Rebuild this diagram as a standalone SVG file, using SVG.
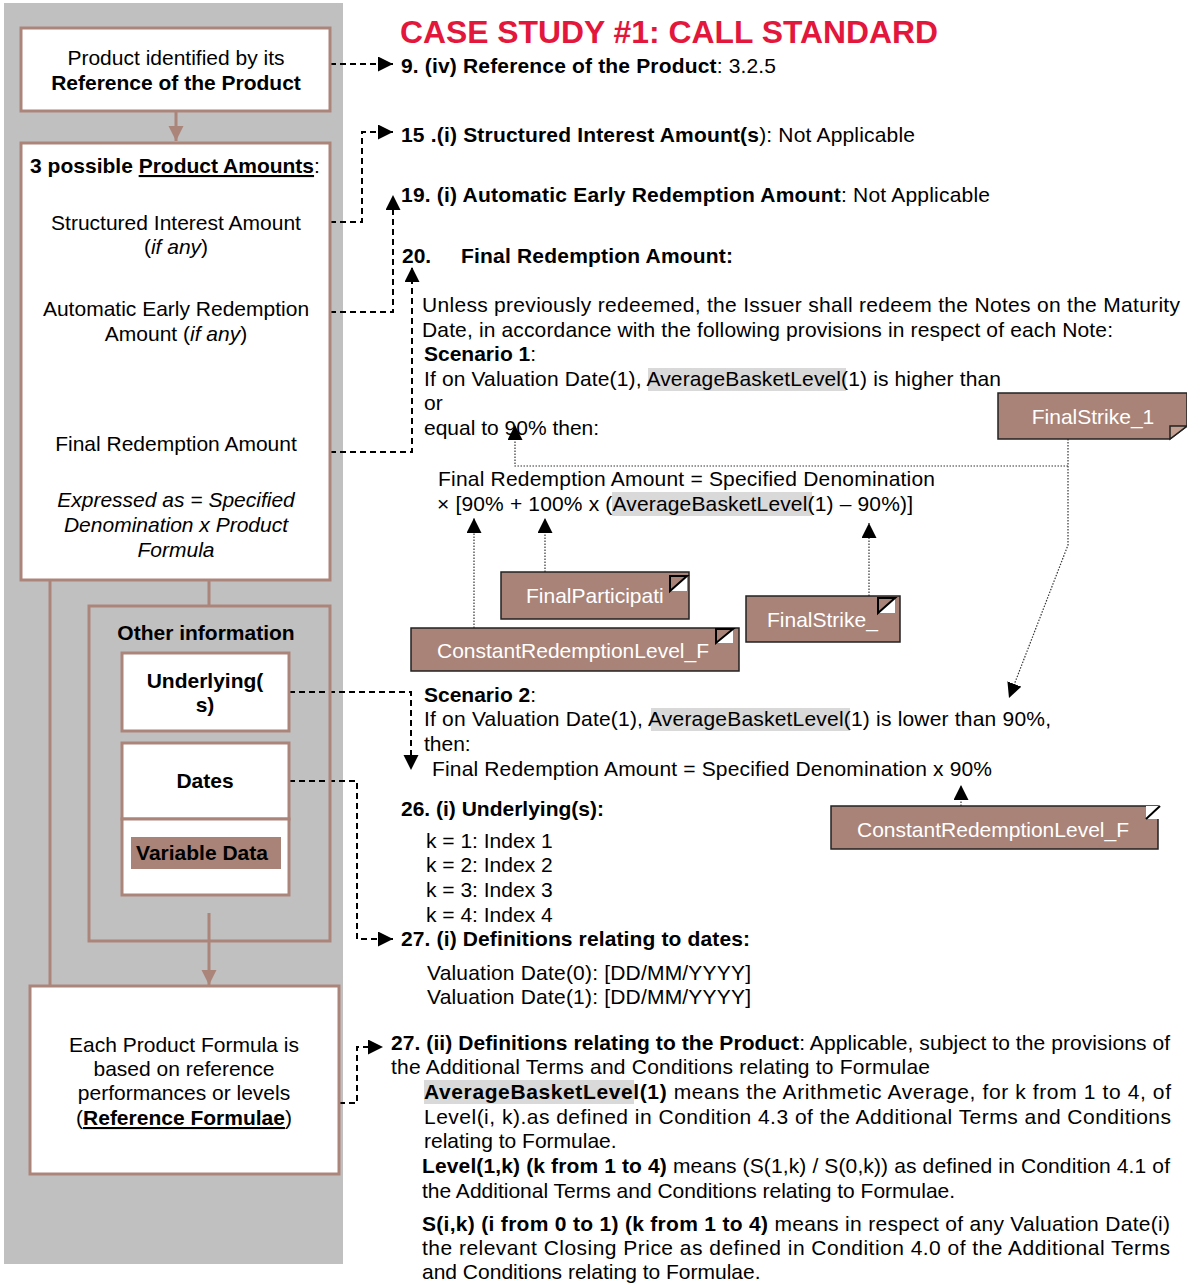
<svg xmlns="http://www.w3.org/2000/svg" width="1187" height="1286" viewBox="0 0 1187 1286">
<defs>
<style>
text{font-family:"Liberation Sans",Arial,sans-serif;font-size:21px;fill:#000}
.b{font-weight:bold}
.i{font-style:italic}
.u{text-decoration:underline}
.box{fill:#fff;stroke:#AC857A;stroke-width:3}
.brn{stroke:#AC857A;stroke-width:3;fill:none}
.dash{stroke:#000;stroke-width:2;stroke-dasharray:6,4;fill:none}
.dot{stroke:#333;stroke-width:1.2;stroke-dasharray:1.5,1.5;fill:none}
.note{fill:#A98377;stroke:#222;stroke-width:1.5}
.nt{fill:#fff}
.hl{fill:#D9D9D9}
</style>
<marker id="ah" markerUnits="userSpaceOnUse" markerWidth="16" markerHeight="16" refX="15" refY="7.5" orient="auto"><path d="M0,0 L15,7.5 L0,15 Z" fill="#000"/></marker>
<marker id="ahb" markerUnits="userSpaceOnUse" markerWidth="16" markerHeight="16" refX="15" refY="7.5" orient="auto"><path d="M0,0 L15,7.5 L0,15 Z" fill="#AC857A"/></marker>
</defs>

<rect x="4" y="3" width="339" height="1261" fill="#C0C0C0"/>

<g id="connectors">
<path class="brn" d="M176,111 V141" marker-end="url(#ahb)"/>
<path class="brn" d="M50,580 V986"/>
<path class="brn" d="M209,580 V606"/>
<path class="brn" d="M209,913 V985" marker-end="url(#ahb)"/>
<path class="dash" d="M330,64 H393" marker-end="url(#ah)"/>
<path class="dash" d="M330,222 H362 V132 H393" marker-end="url(#ah)"/>
<path class="dash" d="M330,312 H393 V195" marker-end="url(#ah)"/>
<path class="dash" d="M330,452 H412 V267" marker-end="url(#ah)"/>
<path class="dash" d="M289,692 H411 V770" marker-end="url(#ah)"/>
<path class="dash" d="M289,781 H357 V939 H393" marker-end="url(#ah)"/>
<path class="dash" d="M339,1103 H357 V1047 H383" marker-end="url(#ah)"/>
<path class="dot" d="M1068,439 V466 H515 V425" marker-end="url(#ah)"/>
<path class="dot" d="M1068,466 V545 L1009,698" marker-end="url(#ah)"/>
<path class="dot" d="M545,572 V518" marker-end="url(#ah)"/>
<path class="dot" d="M474,628 V518" marker-end="url(#ah)"/>
<path class="dot" d="M869,596 V523" marker-end="url(#ah)"/>
<path class="dot" d="M961,806 V785" marker-end="url(#ah)"/>
</g>

<g id="box-reference">
<rect class="box" x="21" y="28" width="309" height="83"/>
<text x="176" y="65" text-anchor="middle">Product identified by its</text>
<text x="176" y="90" text-anchor="middle" class="b">Reference of the Product</text>
</g>

<g id="box-amounts">
<rect class="box" x="21" y="143" width="309" height="437"/>
<text x="175" y="173" text-anchor="middle"><tspan class="b">3 possible </tspan><tspan class="b u">Product Amounts</tspan>:</text>
<text x="176" y="230" text-anchor="middle">Structured Interest Amount</text>
<text x="176" y="254" text-anchor="middle">(<tspan class="i">if any</tspan>)</text>
<text x="176" y="316" text-anchor="middle">Automatic Early Redemption</text>
<text x="176" y="341" text-anchor="middle">Amount (<tspan class="i">if any</tspan>)</text>
<text x="176" y="451" text-anchor="middle">Final Redemption Amount</text>
<text x="176" y="507" text-anchor="middle" class="i">Expressed as = Specified</text>
<text x="176" y="532" text-anchor="middle" class="i">Denomination x Product</text>
<text x="176" y="557" text-anchor="middle" class="i">Formula</text>
</g>

<g id="box-other">
<rect x="89" y="606" width="241" height="335" fill="none" stroke="#AC857A" stroke-width="3"/>
<text x="206" y="640" text-anchor="middle" class="b">Other information</text>
</g>

<g id="box-underlying">
<rect class="box" x="122" y="653" width="167" height="78"/>
<text x="205" y="688" text-anchor="middle" class="b">Underlying(</text>
<text x="205" y="712" text-anchor="middle" class="b">s)</text>
</g>

<g id="box-dates">
<rect class="box" x="122" y="743" width="167" height="76"/>
<text x="205" y="788" text-anchor="middle" class="b">Dates</text>
<rect class="box" x="122" y="819" width="167" height="76"/>
<rect x="131" y="837" width="150" height="32" fill="#A98377"/>
<text x="202" y="860" text-anchor="middle" class="b">Variable Data</text>
</g>

<g id="box-formula">
<rect class="box" x="30" y="986" width="309" height="188"/>
<text x="184" y="1052" text-anchor="middle">Each Product Formula is</text>
<text x="184" y="1076" text-anchor="middle">based on reference</text>
<text x="184" y="1100" text-anchor="middle">performances or levels</text>
<text x="184" y="1125" text-anchor="middle">(<tspan class="b u">Reference Formulae</tspan>)</text>
</g>

<g id="title">
<text x="400" y="43" class="b" style="fill:#E2173B;font-size:31px" textLength="538" lengthAdjust="spacingAndGlyphs">CASE STUDY #1: CALL STANDARD</text>
</g>

<g id="terms">
<text x="401" y="73" textLength="375" lengthAdjust="spacing"><tspan class="b">9. (iv) Reference of the Product</tspan>: 3.2.5</text>
<text x="401" y="142" textLength="514" lengthAdjust="spacing"><tspan class="b">15 .(i) Structured Interest Amount(s</tspan>): Not Applicable</text>
<text x="401" y="202" textLength="589" lengthAdjust="spacing"><tspan class="b">19. (i) Automatic Early Redemption Amount</tspan>: Not Applicable</text>
<text x="402" y="263" class="b">20.</text>
<text x="461" y="263" class="b" textLength="272" lengthAdjust="spacing">Final Redemption Amount:</text>

<text x="422" y="312" textLength="758" lengthAdjust="spacing">Unless previously redeemed, the Issuer shall redeem the Notes on the Maturity</text>
<text x="422" y="337" textLength="691" lengthAdjust="spacing">Date, in accordance with the following provisions in respect of each Note:</text>
<text x="424" y="361"><tspan class="b">Scenario 1</tspan>:</text>
<rect class="hl" x="648" y="368" width="198" height="23"/>
<text x="424" y="386" textLength="577" lengthAdjust="spacing">If on Valuation Date(1), AverageBasketLevel(1) is higher than</text>
<text x="424" y="410">or</text>
<text x="424" y="435">equal to 90% then:</text>
<text x="438" y="486" textLength="497" lengthAdjust="spacing">Final Redemption Amount = Specified Denomination</text>
<rect class="hl" x="612" y="492" width="200" height="24"/>
<text x="437" y="511" textLength="476" lengthAdjust="spacing">× [90% + 100% x (AverageBasketLevel(1) – 90%)]</text>

<text x="424" y="702"><tspan class="b">Scenario 2</tspan>:</text>
<rect class="hl" x="651" y="708" width="199" height="23"/>
<text x="424" y="726" textLength="627" lengthAdjust="spacing">If on Valuation Date(1), AverageBasketLevel(1) is lower than 90%,</text>
<text x="424" y="751">then:</text>
<text x="432" y="776" textLength="560" lengthAdjust="spacing">Final Redemption Amount = Specified Denomination x 90%</text>

<text x="401" y="816" class="b">26. (i) Underlying(s):</text>
<text x="426" y="848">k = 1: Index 1</text>
<text x="426" y="872">k = 2: Index 2</text>
<text x="426" y="897">k = 3: Index 3</text>
<text x="426" y="922">k = 4: Index 4</text>
<text x="401" y="946" class="b" textLength="349" lengthAdjust="spacing">27. (i) Definitions relating to dates:</text>
<text x="427" y="980" textLength="324" lengthAdjust="spacing">Valuation Date(0): [DD/MM/YYYY]</text>
<text x="427" y="1004" textLength="324" lengthAdjust="spacing">Valuation Date(1): [DD/MM/YYYY]</text>

<text x="391" y="1050" textLength="779" lengthAdjust="spacing"><tspan class="b">27. (ii) Definitions relating to the Product</tspan>: Applicable, subject to the provisions of</text>
<text x="391" y="1074" textLength="539" lengthAdjust="spacing">the Additional Terms and Conditions relating to Formulae</text>
<rect class="hl" x="424" y="1080" width="210" height="24"/>
<text x="424" y="1099" textLength="747" lengthAdjust="spacing"><tspan class="b">AverageBasketLevel(1)</tspan> means the Arithmetic Average, for k from 1 to 4, of</text>
<text x="424" y="1124" textLength="747" lengthAdjust="spacing">Level(i, k).as defined in Condition 4.3 of the Additional Terms and Conditions</text>
<text x="424" y="1148">relating to Formulae.</text>
<text x="422" y="1173" textLength="748" lengthAdjust="spacing"><tspan class="b">Level(1,k) (k from 1 to 4)</tspan> means (S(1,k) / S(0,k)) as defined in Condition 4.1 of</text>
<text x="422" y="1198">the Additional Terms and Conditions relating to Formulae.</text>
<text x="422" y="1231" textLength="748" lengthAdjust="spacing"><tspan class="b">S(i,k) (i from 0 to 1) (k from 1 to 4)</tspan> means in respect of any Valuation Date(i)</text>
<text x="422" y="1255" textLength="748" lengthAdjust="spacing">the relevant Closing Price as defined in Condition 4.0 of the Additional Terms</text>
<text x="422" y="1279">and Conditions relating to Formulae.</text>
</g>

<g id="note-finalstrike-1">
<path class="note" d="M998,393 H1187 V426 L1170,439 H998 Z"/>
<path d="M1170,439 L1170,426 L1187,426 Z" fill="#C4A092" stroke="#222" stroke-width="1.5"/>
<text x="1093" y="424" text-anchor="middle" class="nt">FinalStrike_1</text>
</g>

<g id="note-finalparticipation">
<rect class="note" x="501" y="572" width="188" height="47"/>
<rect x="670" y="576" width="17" height="15" fill="#fff"/>
<path d="M670,591 V576 H687 Z" fill="#A98377" stroke="#000" stroke-width="2"/>
<text x="526" y="603" class="nt">FinalParticipati</text>
</g>

<g id="note-constant-1">
<rect class="note" x="411" y="628" width="328" height="43"/>
<rect x="716" y="629" width="17" height="14" fill="#fff"/>
<path d="M716,643 V629 H733 Z" fill="#A98377" stroke="#000" stroke-width="2"/>
<text x="437" y="658" class="nt">ConstantRedemptionLevel_F</text>
</g>

<g id="note-finalstrike">
<rect class="note" x="746" y="596" width="154" height="46"/>
<rect x="878" y="598" width="17" height="15" fill="#fff"/>
<path d="M878,613 V598 H895 Z" fill="#A98377" stroke="#000" stroke-width="2"/>
<text x="767" y="627" class="nt">FinalStrike_</text>
</g>

<g id="note-constant-2">
<rect class="note" x="831" y="806" width="327" height="43"/>
<rect x="1146" y="806" width="16" height="13" fill="#fff"/>
<path d="M1146,819 L1160,806" stroke="#000" stroke-width="2"/>
<text x="857" y="837" class="nt">ConstantRedemptionLevel_F</text>
</g>
</svg>
